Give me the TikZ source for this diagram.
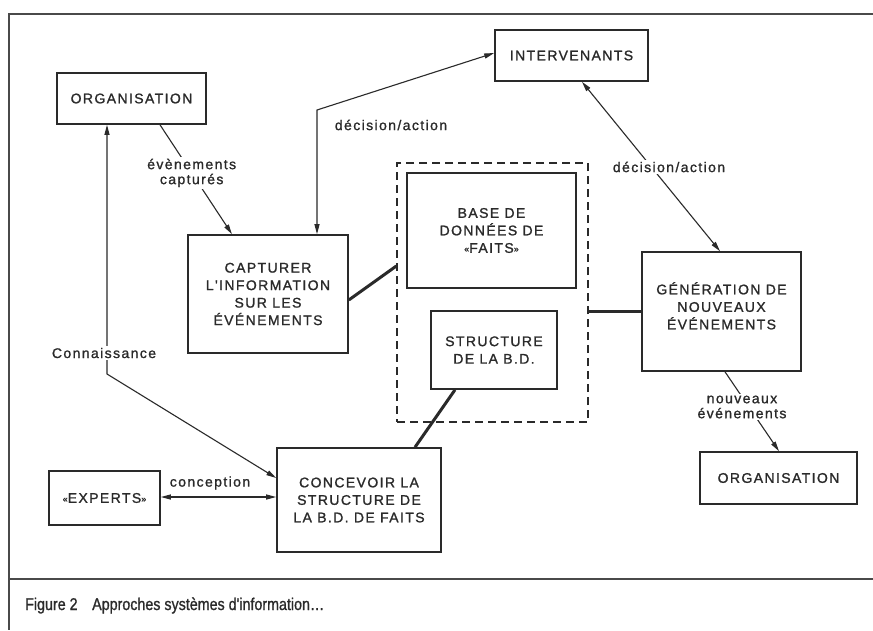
\documentclass[tikz,border=0pt]{standalone}
\usepackage{fontspec}
\setmainfont{Liberation Sans}
\newfontfamily\dfont{Liberation Sans}[LetterSpace=10,FakeBold=1.2]
\newfontfamily\capfont{Liberation Sans}[FakeStretch=0.84,FakeBold=1.0]
\usetikzlibrary{arrows.meta}
\definecolor{ink}{HTML}{2A2A2A}
\newcommand{\gql}{{\fontsize{9}{9}\selectfont\raisebox{0.8pt}{«}}}
\newcommand{\gqr}{{\fontsize{9}{9}\selectfont\raisebox{0.8pt}{»}}}
\begin{document}
\begin{tikzpicture}[x=1pt,y=-1pt,
  >={Triangle[length=10pt,width=5pt]},
  box/.style={draw=ink, line width=1.6pt, inner sep=0pt, align=center, text=ink,
    font=\dfont\fontsize{14}{17.5}\selectfont},
  dashbox/.style={draw=ink, line width=1.3pt, dash pattern=on 8pt off 5pt, inner sep=0pt},
  lbl/.style={text=ink, align=center, inner sep=1.5pt, font=\dfont\fontsize{14}{15}\selectfont},
  conn/.style={draw=ink, line width=1.1pt},
  heavy/.style={draw=ink, line width=3pt},
  frame/.style={draw=ink!85, line width=1.4pt},
  captxt/.style={text=ink, inner sep=0pt, font=\capfont\fontsize{17}{18}\selectfont}]
\useasboundingbox (0,0) rectangle (873,630);
\fill[white] (0,0) rectangle (873,630);
% frame
\draw[frame] (873,14) -- (9,14) -- (9,630);
\draw[frame] (9,579) -- (873,579);
% boxes
\node[dashbox, minimum width=191pt, minimum height=259pt] (db) at (492.5,292.5) {};
\node[box, minimum width=149pt, minimum height=51pt] (org1) at (131.5,98.5) {ORGANISATION};
\node[box, minimum width=153pt, minimum height=51pt] (inter) at (571.5,55.5) {INTERVENANTS};
\node[box, minimum width=160pt, minimum height=118pt] (capt) at (268,294) {CAPTURER\\L'INFORMATION\\SUR LES\\ÉVÉNEMENTS};
\node[box, minimum width=169pt, minimum height=115pt] (base) at (491.5,230.5) {BASE DE\\DONNÉES DE\\\gql FAITS\gqr};
\node[box, minimum width=126pt, minimum height=78pt] (struct) at (494,350) {STRUCTURE\\DE LA B.D.};
\node[box, minimum width=159pt, minimum height=119pt] (gen) at (721.5,311.5) {GÉNÉRATION DE\\NOUVEAUX\\ÉVÉNEMENTS\\[-6pt]};
\node[box, minimum width=157pt, minimum height=52pt] (org2) at (778.5,478) {ORGANISATION};
\node[box, minimum width=111pt, minimum height=54pt] (exp) at (104.5,498) {\gql EXPERTS\gqr};
\node[box, minimum width=164pt, minimum height=104pt] (conc) at (359,500) {CONCEVOIR LA\\STRUCTURE DE\\LA B.D. DE FAITS};
% connectors
\draw[conn,->] (org1.south -| 160,0) -- node[lbl, fill=white, pos=0.44] {évènements\\capturés} (capt.north -| 232,0);
\draw[conn,<->] (inter.west |- 0,53) -- (317,110) -- (capt.north -| 317,0);
\node[lbl] (l1) at (391,125) {décision/action};
\draw[conn,<->] (inter.south -| 582,0) -- (gen.north -| 720,0);
\node[lbl, fill=white] (l2) at (669,167) {décision/action};
\draw[heavy] (capt.east |- 0,300) -- (db.west |- 0,266);
\draw[heavy] (db.east |- gen.west) -- (gen.west);
\draw[heavy] (struct.south -| 455,0) -- (conc.north -| 415,0);
\draw[conn,<->] (org1.south -| 107,0) -- (107,374) -- (conc.west |- 0,478);
\node[lbl, fill=white] (l3) at (104,353) {Connaissance};
\draw[conn,<->] (exp.east |- 0,497) -- (conc.west |- 0,497);
\node[lbl] (l4) at (210,483) {conception};
\draw[conn,->] (gen.south -| 725,0) -- (org2.north -| 779,0);
\node[lbl, fill=white] (l5) at (742,407) {nouveaux\\événements};
% caption
\node[captxt, anchor=base west] (fig) at (25,610) {Figure 2};
\node[captxt, anchor=base west] (title) at (92,610) {Approches systèmes d'information…};
\end{tikzpicture}
\end{document}
